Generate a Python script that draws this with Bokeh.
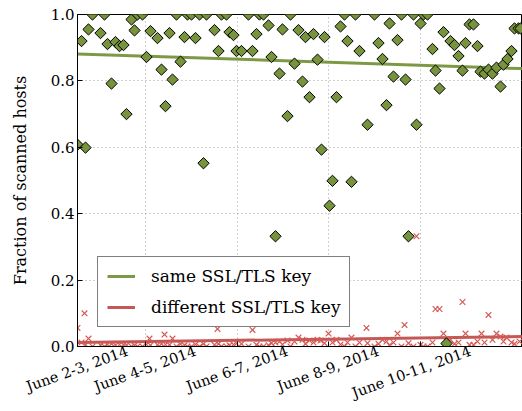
import numpy as np
from bokeh.plotting import figure
from bokeh.models import (Range1d, FixedTicker, Legend, LegendItem, PrintfTickFormatter,
                          LinearAxis)
from bokeh.embed import file_html
from bokeh.resources import INLINE

# ---------------- data ----------------
tick_x = [0, 68, 160, 251, 343]
tick_labels = ["June 2-3, 2014", "June 4-5, 2014", "June 6-7, 2014",
               "June 8-9, 2014", "June 10-11, 2014"]
y_ticks = [0.0, 0.2, 0.4, 0.6, 0.8, 1.0]

same_x = [0, 4, 8, 11, 15, 23, 27, 30, 34, 38, 42, 46, 49, 54, 57, 60, 65, 69, 73, 80,
          84, 88, 92, 95, 99, 103, 107, 110, 114, 118, 122, 126, 129, 137, 141, 144, 149,
          152, 156, 159, 164, 171, 175, 179, 182, 186, 191, 194, 198, 202, 205, 210, 213,
          217, 221, 225, 228, 232, 236, 240, 244, 247, 252, 255, 259, 263, 267, 270, 274,
          278, 282, 290, 297, 301, 305, 309, 312, 316, 320, 324, 328, 331, 336, 339, 343,
          346, 350, 355, 358, 362, 366, 369, 373, 377, 381, 385, 388, 392, 396, 400, 403,
          407, 411, 415, 419, 423, 426, 430, 434, 437, 441, 443]
same_y = [0.608, 0.92, 0.599, 0.955, 1.0, 0.944, 1.0, 0.911, 0.792, 0.917, 0.905, 0.908,
          0.70, 0.985, 0.952, 1.0, 1.0, 0.872, 0.95, 0.929, 0.834, 0.724, 0.944, 0.804,
          1.0, 0.858, 0.932, 1.0, 1.0, 0.929, 1.0, 0.552, 1.0, 0.953, 0.89, 1.0, 1.0,
          0.947, 0.938, 0.89, 0.89, 1.0, 0.89, 0.941, 1.0, 1.0, 0.967, 0.872, 0.332,
          0.822, 0.955, 0.694, 1.0, 0.852, 0.953, 0.798, 0.932, 0.751, 0.941, 0.864,
          0.593, 0.932, 0.424, 0.499, 0.751, 0.964, 1.0, 0.92, 0.496, 1.0, 0.89, 0.668,
          1.0, 0.914, 0.866, 0.727, 0.973, 0.813, 0.923, 1.0, 0.804, 0.332, 1.0, 0.668,
          0.973, 1.0, 1.0, 0.896, 0.831, 0.777, 0.947, 0.009, 0.92, 0.908, 0.875, 0.831,
          0.914, 0.97, 0.97, 0.905, 0.828, 0.822, 0.834, 0.822, 0.84, 0.783, 0.849,
          0.866, 0.89, 0.958, 0.958, 0.958]

diff_x = [0, 4, 7, 8, 11, 15, 23, 27, 30, 34, 38, 42, 46, 49, 54, 57, 60, 65, 69, 72, 73,
          80, 84, 87, 88, 92, 95, 99, 103, 107, 110, 114, 118, 122, 126, 129, 137, 140,
          141, 144, 149, 152, 156, 159, 164, 171, 175, 179, 182, 186, 191, 194, 198, 202,
          205, 210, 213, 217, 221, 225, 228, 232, 236, 240, 243, 247, 251, 255, 259, 263,
          267, 270, 274, 278, 282, 289, 290, 297, 301, 305, 309, 312, 316, 320, 324, 327,
          331, 336, 339, 343, 346, 350, 355, 358, 362, 366, 369, 373, 377, 381, 385, 388,
          392, 396, 400, 404, 407, 411, 415, 419, 423, 426, 429, 434, 437, 442]
diff_y = [0.056, 0.012, 0.10, 0.005, 0.024, 0.0, 0.004, 0.0, 0.006, 0.008, 0.004, 0.006,
          0.005, 0.004, 0.0, 0.003, 0.0, 0.0, 0.006, 0.024, 0.004, 0.005, 0.008, 0.036,
          0.006, 0.005, 0.024, 0.0, 0.007, 0.004, 0.0, 0.0, 0.006, 0.0, 0.008, 0.0, 0.005,
          0.053, 0.008, 0.0, 0.0, 0.004, 0.006, 0.009, 0.008, 0.0, 0.05, 0.005, 0.0, 0.0,
          0.004, 0.01, 0.012, 0.015, 0.006, 0.018, 0.0, 0.015, 0.027, 0.02, 0.008, 0.018,
          0.012, 0.02, 0.018, 0.01, 0.039, 0.012, 0.02, 0.006, 0.0, 0.012, 0.027, 0.0,
          0.012, 0.056, 0.01, 0.0, 0.008, 0.02, 0.015, 0.004, 0.012, 0.039, 0.0, 0.065,
          0.01, 0.0, 0.332, 0.005, 0.0, 0.0, 0.012, 0.113, 0.113, 0.039, 0.015, 0.02,
          0.008, 0.012, 0.134, 0.039, 0.005, 0.005, 0.015, 0.039, 0.012, 0.095, 0.02,
          0.039, 0.03, 0.015, 0.027, 0.012, 0.008, 0.015]

trend_x = [0, 445]
trend_same = [0.881, 0.837]
trend_diff = [0.012, 0.030]

# ---------------- styling ----------------
GREEN = "#77933c"
RED = "#c0504d"
RED_X = "#d55a55"
FONT = "DejaVu Serif"
LABEL_SHIFT = 50   # screen shift so the rotated labels sit centred on their ticks

p = figure(width=522, height=411, output_backend="svg", toolbar_location=None,
           x_range=Range1d(0, 445), y_range=Range1d(0, 1.0),
           min_border_left=77, min_border_right=0, min_border_top=14,
           min_border_bottom=60)
p.background_fill_color = "white"
p.border_fill_color = "white"
p.outline_line_color = "black"
p.outline_line_width = 1

# main x axis: inward ticks only
p.xaxis.ticker = FixedTicker(ticks=tick_x)
p.xaxis.major_label_overrides = {t: "" for t in tick_x}
p.xaxis.major_label_text_font_size = "1px"
p.xaxis.major_label_standoff = 0
p.xaxis.major_tick_in = 5
p.xaxis.major_tick_out = 0
p.xaxis.minor_tick_line_color = None
p.xaxis.axis_line_color = "black"
p.xaxis.major_tick_line_color = "black"

# label axis (rotated tick labels)
p.extra_x_ranges = {"labels": Range1d(0 - LABEL_SHIFT, 445 - LABEL_SHIFT)}
lab_axis = LinearAxis(x_range_name="labels", ticker=FixedTicker(ticks=tick_x))
lab_axis.major_label_overrides = {t: l for t, l in zip(tick_x, tick_labels)}
lab_axis.major_label_orientation = np.deg2rad(20)
lab_axis.major_label_text_font = FONT
lab_axis.major_label_text_font_size = "14.5px"
lab_axis.major_label_text_line_height = 0.6
lab_axis.major_label_text_color = "black"
lab_axis.major_label_standoff = 4
lab_axis.axis_line_color = None
lab_axis.major_tick_line_color = None
lab_axis.minor_tick_line_color = None
lab_axis.major_tick_in = 0
lab_axis.major_tick_out = 0
p.add_layout(lab_axis, "below")

p.yaxis.ticker = FixedTicker(ticks=y_ticks)
p.yaxis.formatter = PrintfTickFormatter(format="%.1f")
p.yaxis.major_tick_in = 5
p.yaxis.major_tick_out = 0
p.yaxis.minor_tick_line_color = None
p.yaxis.major_label_text_font = FONT
p.yaxis.major_label_text_font_size = "15px"
p.yaxis.major_label_text_color = "black"
p.yaxis.major_label_standoff = 3
p.yaxis.axis_label = "Fraction of scanned hosts"
p.yaxis.axis_label_text_font = FONT
p.yaxis.axis_label_text_font_size = "16px"
p.yaxis.axis_label_text_font_style = "normal"
p.yaxis.axis_label_text_color = "black"
p.yaxis.axis_label_standoff = 18

# grid
for g in (p.xgrid, p.ygrid):
    g.grid_line_color = "#a0a0a0"
    g.grid_line_dash = "1 3"
    g.grid_line_width = 1
p.xgrid.ticker = FixedTicker(ticks=tick_x)
p.ygrid.ticker = FixedTicker(ticks=y_ticks)

# trend lines
r_same = p.line(trend_x, trend_same, line_color=GREEN, line_width=3, line_alpha=0.95)
r_diff = p.line(trend_x, trend_diff, line_color=RED, line_width=3, line_alpha=0.95)

# points
p.scatter(diff_x, diff_y, marker="x", size=8, line_color=RED_X, line_width=1.2)
p.scatter(same_x, same_y, marker="square", angle=np.pi / 4, size=8,
          fill_color=GREEN, line_color="black", line_width=1)

# legend
legend = Legend(items=[LegendItem(label="same SSL/TLS key", renderers=[r_same]),
                       LegendItem(label="different SSL/TLS key", renderers=[r_diff])],
                location=(20, 19))
legend.label_text_font = FONT
legend.label_text_font_size = "17px"
legend.label_text_color = "black"
legend.glyph_width = 28
legend.glyph_height = 20
legend.label_height = 20
legend.label_standoff = 16
legend.spacing = 11
legend.padding = 9
legend.margin = 0
legend.border_line_color = "black"
legend.border_line_width = 1
legend.background_fill_color = "white"
legend.background_fill_alpha = 1.0
p.add_layout(legend)

open("out.html", "w").write(file_html(p, INLINE))
